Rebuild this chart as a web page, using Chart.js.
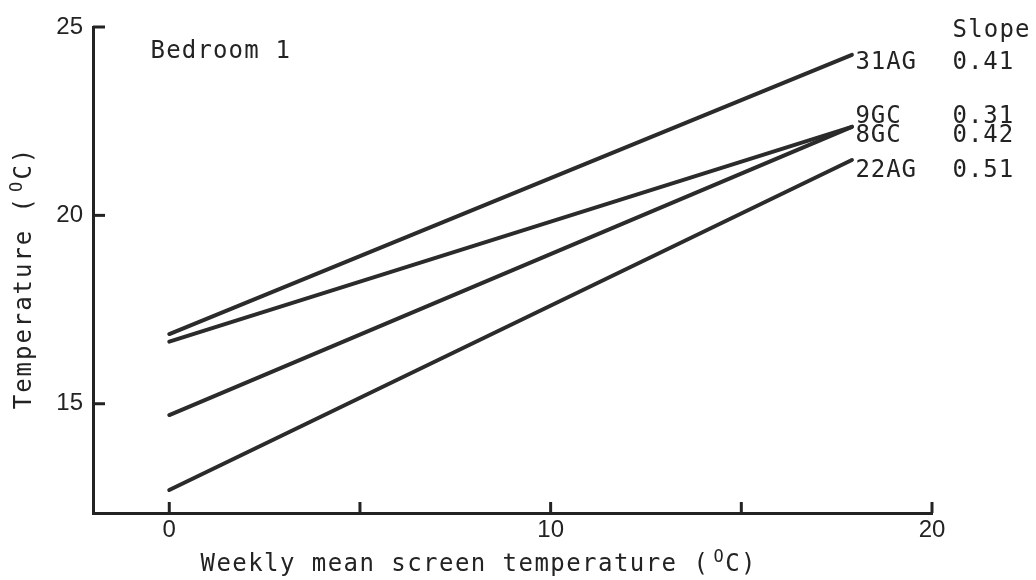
<!DOCTYPE html>
<html>
<head>
<meta charset="utf-8">
<script src="https://cdn.jsdelivr.net/npm/chart.js@4.4.1/dist/chart.umd.min.js"></script>
<style>
  html, body { margin: 0; padding: 0; background: #fff; }
  #wrap { width: 1036px; height: 580px; }
</style>
</head>
<body>
<div id="wrap"><canvas id="chart" width="1036" height="580"></canvas></div>
<script>
// bedroom temperature vs weekly mean screen temperature, fitted lines
const houses = ['31AG', '9GC', '8GC', '22AG'];
const slopes = ['0.41', '0.31', '0.42', '0.51'];
const screenRange = [0, 17.9];
const startTemps = [16.85, 16.65, 14.70, 12.71];
const endTemps = [24.26, 22.35, 22.35, 21.47];
const xTickValues = [0, 5, 10, 15, 20];
const xTickLabels = [0, 10, 20];
const yTickValues = [15, 20, 25];

const ink = '#232323';
const mono = '"DejaVu Sans Mono", monospace';

// label nudges (px) so the house names don't collide at the line ends
const labelNudge = [8, -10, 9, 11];

// typewriter-style text: fixed pitch, "°" drawn as a raised small O
function typeText(ctx, text, x, y, pitch, size) {
    ctx.save();
    ctx.fillStyle = ink;
    ctx.textAlign = 'center';
    ctx.textBaseline = 'middle';
    for (let i = 0; i < text.length; i++) {
        const ch = text[i];
        const cx = x + i * pitch + pitch / 2;
        if (ch === '°') {
            ctx.font = Math.round(size * 0.72) + 'px ' + mono;
            ctx.fillText('O', cx + 2, y - size * 0.3);
        } else {
            ctx.font = size + 'px ' + mono;
            ctx.fillText(ch, cx, y);
        }
    }
    ctx.restore();
}

const datasets = houses.map((h, i) => ({
    label: h,
    data: screenRange.map((x, k) => ({ x: x, y: k === 0 ? startTemps[i] : endTemps[i] })),
    showLine: true,
    borderColor: '#2b2b2b',
    borderWidth: 4,
    borderCapStyle: 'round',
    pointRadius: 0,
    fill: false
}));

const annotations = {
    id: 'annotations',
    afterDraw(chart) {
        const ctx = chart.ctx;
        const xs = chart.scales.x;
        const ys = chart.scales.y;
        const area = chart.chartArea;

        // inward tick marks
        ctx.save();
        ctx.strokeStyle = ink;
        ctx.lineWidth = 3;
        xs.ticks.forEach(t => {
            const px = xs.getPixelForValue(t.value);
            ctx.beginPath();
            ctx.moveTo(px, area.bottom);
            ctx.lineTo(px, area.bottom - 11);
            ctx.stroke();
        });
        ys.ticks.forEach(t => {
            const py = ys.getPixelForValue(t.value);
            ctx.beginPath();
            ctx.moveTo(area.left, py);
            ctx.lineTo(area.left + 12, py);
            ctx.stroke();
        });
        ctx.restore();

        // axis titles
        const xTitle = 'Weekly mean screen temperature (°C)';
        typeText(ctx, xTitle, 478 - xTitle.length * 15.9 / 2, 565, 15.9, 24);
        const yTitle = 'Temperature (°C)';
        ctx.save();
        ctx.translate(25, 279);
        ctx.rotate(-Math.PI / 2);
        typeText(ctx, yTitle, -yTitle.length * 16.4 / 2, 0, 16.4, 24);
        ctx.restore();

        typeText(ctx, 'Bedroom 1', 150, 52, 15.6, 24);
        typeText(ctx, 'Slope', 952, 31, 15.6, 24);

        const xEnd = xs.getPixelForValue(screenRange[1]);
        houses.forEach((h, i) => {
            const py = ys.getPixelForValue(endTemps[i]) + labelNudge[i];
            typeText(ctx, h, xEnd + 3, py, 15.4, 24);
            typeText(ctx, slopes[i], 952, py, 15.4, 24);
        });
    }
};

new Chart(document.getElementById('chart').getContext('2d'), {
    type: 'scatter',
    data: { datasets: datasets },
    options: {
        responsive: false,
        animation: false,
        layout: { padding: { left: 0, top: 27, right: 104, bottom: 0 } },
        plugins: {
            legend: { display: false },
            tooltip: { enabled: false }
        },
        scales: {
            x: {
                type: 'linear',
                min: -2,
                max: 20,
                afterFit: (scale) => { scale.height = 67; },
                afterBuildTicks: (axis) => { axis.ticks = xTickValues.map(v => ({ value: v })); },
                grid: { drawOnChartArea: false, drawTicks: false },
                border: { display: true, color: ink, width: 3 },
                ticks: {
                    padding: 3,
                    color: ink,
                    maxRotation: 0,
                    autoSkip: false,
                    font: { family: '"Liberation Sans", Arial, sans-serif', size: 24 },
                    callback: (v) => xTickLabels.includes(v) ? String(v) : ''
                }
            },
            y: {
                type: 'linear',
                min: 12.1,
                max: 25,
                afterFit: (scale) => { scale.width = 93; },
                afterBuildTicks: (axis) => { axis.ticks = yTickValues.map(v => ({ value: v })); },
                grid: { drawOnChartArea: false, drawTicks: false },
                border: { display: true, color: ink, width: 3 },
                ticks: {
                    padding: 10,
                    color: ink,
                    autoSkip: false,
                    font: { family: '"Liberation Sans", Arial, sans-serif', size: 24 }
                }
            }
        }
    },
    plugins: [annotations]
});
</script>
</body>
</html>
